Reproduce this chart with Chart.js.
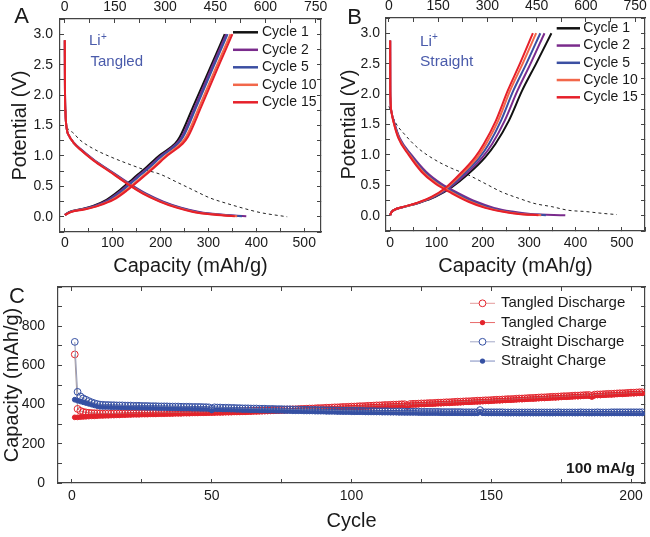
<!DOCTYPE html>
<html><head><meta charset="utf-8">
<script src="https://cdn.jsdelivr.net/npm/chart.js@4.4.1/dist/chart.umd.min.js"></script>
<style>
html,body{margin:0;padding:0;background:#fff;width:650px;height:537px;overflow:hidden;position:relative}
canvas{position:absolute;display:block}
#ca{left:0;top:0}
#cb{left:325px;top:0}
#cc{left:0;top:280px}
</style></head><body>
<canvas id="ca" width="345" height="280"></canvas>
<canvas id="cb" width="325" height="280"></canvas>
<canvas id="cc" width="650" height="257"></canvas>
<script>
// ---------------- DATA ----------------
// Panel A (Tangled) - discharge: capacity (mAh/g, bottom axis) at potentials
const A_disV   = [2.9, 2.2, 1.7, 1.45, 1.33, 1.22, 1.10, 0.93, 0.74, 0.55, 0.38, 0.25, 0.15, 0.08, 0.04, 0.01];
const A_dis_c2  = [0, 0.3, 1.5, 4, 9, 19, 35, 62, 98, 134, 170, 206, 243, 281, 320, 379];
const A_dis_c5  = [0, 0.3, 1.5, 4, 9, 18, 34, 61, 97, 132, 168, 203, 240, 276, 313, 370];
const A_dis_c10 = [0, 0.3, 1.5, 4, 9, 18, 33, 60, 95, 130, 165, 200, 236, 271, 307, 360];
const A_dis_c15 = [0, 0.3, 1.5, 4, 9, 18, 33, 59, 94, 129, 163, 198, 233, 268, 303, 355];
// Panel A - charge
const A_chgV   = [0.03, 0.08, 0.12, 0.18, 0.28, 0.44, 0.63, 0.82, 1.01, 1.20, 1.31, 1.81, 2.44, 3.0];
const A_chg_c1  = [0, 10, 31, 59, 87, 115, 143, 171, 198, 230, 240, 268, 303, 334];
const A_chg_c2  = [0, 11, 33, 62, 91, 119, 147, 175, 202, 233, 244, 272, 306, 337];
const A_chg_c5  = [0, 12, 35, 64, 94, 122, 150, 178, 205, 236, 247, 275, 309, 340];
const A_chg_c10 = [0, 13, 38, 68, 99, 128, 157, 185, 212, 242, 253, 281, 315, 346];
const A_chg_c15 = [0, 14, 40, 70, 102, 131, 160, 188, 215, 246, 257, 285, 319, 350];
// Panel A - first discharge (dashed, top axis)
const A_first_cap = [0, 1, 3, 6, 20, 46, 85, 135, 185, 235, 285, 335, 384, 434, 484, 534, 584, 665];
const A_first_V   = [2.55, 2.1, 1.75, 1.5, 1.4, 1.26, 1.12, 0.99, 0.88, 0.78, 0.70, 0.57, 0.44, 0.31, 0.22, 0.14, 0.07, 0.0];

// Panel B (Straight) - discharge
const B_disV   = [2.88, 2.2, 1.93, 1.70, 1.55, 1.27, 1.0, 0.72, 0.53, 0.37, 0.23, 0.13, 0.07, 0.03, 0.01];
const B_dis_c2  = [0, 0.2, 0.6, 3, 8, 21, 46, 78, 110, 148, 186, 224, 263, 303, 378];
const B_dis_c5  = [0, 0.2, 0.6, 3, 8, 20, 44, 74, 105, 142, 179, 215, 252, 290, 336];
const B_dis_c10 = [0, 0.2, 0.6, 3, 7, 19, 42, 71, 101, 137, 173, 209, 245, 282, 326];
const B_dis_c15 = [0, 0.2, 0.6, 3, 7, 18, 40, 68, 97, 133, 169, 205, 241, 277, 320];
// Panel B - charge
const B_chgV   = [0.01, 0.05, 0.09, 0.15, 0.21, 0.31, 0.47, 0.69, 0.96, 1.18, 1.56, 2.06, 2.50, 3.0];
const B_chg_c1  = [0, 2, 7, 32, 61, 97, 133, 169, 205, 227, 256, 285, 315, 348];
const B_chg_c2  = [0, 2, 7, 32, 60, 95, 130, 164, 199, 220, 247, 275, 303, 333];
const B_chg_c5  = [0, 2, 7, 31, 59, 93, 127, 159, 193, 213, 239, 266, 294, 324];
const B_chg_c10 = [0, 2, 7, 31, 58, 91, 124, 155, 188, 207, 233, 259, 286, 315];
const B_chg_c15 = [0, 2, 7, 30, 57, 89, 121, 151, 183, 202, 228, 254, 280, 308];
// Panel B - first discharge (dashed, top axis)
const B_first_cap = [0, 18, 49, 89, 140, 191, 242, 293, 344, 394, 445, 496, 547, 598, 650, 694];
const B_first_V   = [1.80, 1.55, 1.33, 1.11, 0.92, 0.78, 0.67, 0.53, 0.39, 0.29, 0.20, 0.15, 0.09, 0.07, 0.04, 0.02];

// Panel C - cycling (mAh/g) for cycles 1..N
const tangledDischarge = [
656,378,368,363,360,358,357,356,356,355, 354,355,355,354,355,355,355,355,356,356,
356,356,356,357,357,357,357,358,358,358, 358,359,359,359,359,360,360,360,360,361,
361,361,361,362,362,362,362,363,363,363, 364,364,364,365,365,365,366,366,366,367,
367,367,368,368,369,369,369,370,370,371, 371,372,372,373,373,374,375,375,376,376,
377,378,378,379,380,380,381,382,382,383, 384,384,385,386,386,387,388,388,389,390,
390,391,392,392,393,394,394,395,396,396, 397,398,398,399,400,400,401,402,402,394,
403,404,404,405,406,406,407,408,408,409, 410,410,411,412,412,413,414,415,415,416,
417,417,418,419,420,420,421,422,422,423, 424,425,425,426,427,428,428,429,430,431,
431,432,433,434,434,435,436,437,437,438, 439,440,440,441,442,443,443,444,445,446,
446,447,448,449,449,445,451,452,452,453, 454,455,455,456,457,458,458,459,460,461,
461,462,463,463];
const tangledCharge = [
335,335,336,337,338,339,340,340,341,342, 342,343,343,344,344,345,345,346,346,347,
347,348,348,348,349,349,349,350,350,350, 351,351,351,352,352,352,353,353,353,354,
354,354,355,355,355,356,356,356,357,357, 357,358,358,358,359,359,359,360,360,360,
361,361,362,362,363,363,364,364,365,365, 366,366,367,367,368,368,369,370,370,371,
372,372,373,374,374,375,376,376,377,378, 378,379,380,380,381,382,382,383,384,384,
385,386,386,387,388,388,389,390,390,391, 392,392,393,394,394,395,396,396,397,388,
398,399,399,400,401,401,402,403,403,404, 405,405,406,407,407,408,409,409,410,411,
412,412,413,414,414,415,416,417,417,418, 419,420,420,421,422,423,423,424,425,426,
426,427,428,429,429,430,431,432,432,433, 434,435,435,436,437,438,438,439,440,441,
441,442,443,444,444,439,446,447,447,448, 449,450,450,451,452,453,453,454,455,456,
456,457,458,458];
const straightDischarge = [
720,465,442,432,425,418,412,407,403,400, 399,398,398,397,397,396,396,396,395,395,
395,394,394,394,393,393,393,392,392,392, 391,391,391,391,390,390,390,390,389,389,
389,389,388,388,388,388,387,387,386,379, 386,385,385,384,384,384,383,383,382,382,
381,381,381,380,380,380,379,379,379,378, 378,378,377,377,377,376,376,376,375,375,
375,374,374,374,373,373,373,372,372,372, 371,371,371,370,370,370,369,369,369,369,
368,368,368,368,367,367,367,367,366,366, 366,366,366,365,365,365,365,365,364,364,
364,364,364,364,363,363,363,363,363,363, 363,362,362,362,362,362,362,362,362,361,
361,361,361,361,361,372,361,361,361,361, 361,361,361,361,360,360,360,360,360,360,
360,360,360,360,360,360,360,360,360,360, 360,360,360,361,360,360,360,360,360,360,
360,361,360,360,360,360,360,361,360,360, 360,360,361,361,361,361,361,361,361,361,
361,361,361,361];
const straightCharge = [
425,420,416,412,408,404,400,396,392,389, 388,388,388,387,387,387,386,386,386,385,
385,385,385,384,384,384,383,383,383,383, 382,382,382,382,381,381,381,381,380,380,
380,380,379,379,379,378,378,378,377,370, 377,376,376,375,375,375,374,374,373,373,
372,372,372,371,371,371,370,370,370,369, 369,369,368,368,368,367,367,367,366,366,
366,366,365,365,365,365,364,364,364,364, 363,363,363,363,362,362,362,362,362,361,
361,361,361,361,360,360,360,360,360,360, 359,359,359,359,359,359,358,358,358,358,
358,358,358,357,357,357,357,357,357,357, 357,356,356,356,356,356,356,356,356,356,
356,356,356,356,356,362,356,356,355,355, 355,355,355,355,355,355,355,355,355,355,
355,355,355,355,355,355,355,355,355,355, 355,355,355,355,355,355,355,355,355,355,
355,355,355,355,355,355,355,355,355,355, 355,355,355,355,355,355,355,355,355,355,
355,355,355,355];
const cycles = tangledDischarge.map((_, i) => i + 1);

// ---------------- STYLE ----------------
const FONT = "'Liberation Sans', Arial, Helvetica, sans-serif";
Chart.defaults.font.family = FONT;
Chart.defaults.color = '#1a1a1a';
const AXC = '#444';
const COL = {c1: '#111111', c2: '#7a2b8c', c5: '#3b4fa2', c10: '#f2674a', c15: '#e6202a'};
const RED = '#e3232b', BLUE = '#3550a3', LIBLUE = '#4a5bab';

function lin(o) {
  const horiz = o.position === 'top' || o.position === 'bottom';
  return {
    type: 'linear', position: o.position, min: o.min, max: o.max,
    grid: {display: true, drawOnChartArea: false, drawTicks: true, tickLength: -4, tickColor: AXC, tickWidth: 1, color: AXC},
    border: {display: true, color: AXC, width: 1.2},
    ticks: {
      display: o.labels !== false, stepSize: o.step, autoSkip: false, maxRotation: 0, minRotation: 0,
      includeBounds: false, padding: o.pad || 0, color: '#1a1a1a', font: {size: o.fs || 14, family: FONT},
      callback: function (v) {
        if (o.labels === false) return '';
        const r = v / o.every;
        if (Math.abs(r - Math.round(r)) > 1e-6) return '';
        if (o.hide && o.hide.indexOf(Math.round(v)) >= 0) return '';
        return o.dec ? v.toFixed(o.dec) : String(Math.round(v));
      }
    },
    title: o.title ? {display: true, text: o.title, color: '#1a1a1a', font: {size: o.tfs || 20, family: FONT}, padding: o.tpad} : {display: false},
    afterFit: function (s) {
      if (horiz) s.height = o.size; else s.width = o.size;
      s.paddingLeft = 0; s.paddingRight = 0; s.paddingTop = 0; s.paddingBottom = 0;
    }
  };
}

function makeDeco(cfg) {
  return {
    id: 'deco',
    afterDatasetsDraw(chart) {
      const ctx = chart.ctx;
      ctx.save();
      (cfg.texts || []).forEach(t => {
        ctx.font = t.font; ctx.fillStyle = t.color || '#1a1a1a';
        ctx.textAlign = t.align || 'left'; ctx.textBaseline = 'middle';
        ctx.fillText(t.text, t.x, t.y);
      });
      const L = cfg.legend;
      if (L) {
        L.items.forEach((it, i) => {
          const y = L.y0 + i * L.dy;
          ctx.strokeStyle = it.line; ctx.lineWidth = it.lw || 2.5;
          ctx.beginPath(); ctx.moveTo(L.x0, y); ctx.lineTo(L.x1, y); ctx.stroke();
          if (it.marker) {
            ctx.beginPath(); ctx.arc((L.x0 + L.x1) / 2, y, it.r, 0, 2 * Math.PI);
            if (it.filled) { ctx.fillStyle = it.marker; ctx.fill(); }
            else { ctx.fillStyle = '#fff'; ctx.fill(); ctx.lineWidth = 1; ctx.strokeStyle = it.marker; ctx.stroke(); }
          }
          ctx.font = L.font; ctx.fillStyle = '#1a1a1a'; ctx.textAlign = 'left'; ctx.textBaseline = 'middle';
          ctx.fillText(it.label, L.tx, y);
        });
      }
      ctx.restore();
    }
  };
}

const pts = (xs, ys) => xs.map((x, i) => ({x: x, y: ys[i]}));
function curve(label, xs, ys, color, order) {
  return {label: label, data: pts(xs, ys), xAxisID: 'x', yAxisID: 'y', showLine: true, pointRadius: 0,
    borderColor: color, borderWidth: 2, cubicInterpolationMode: 'monotone', order: order};
}
function dashed(xs, ys) {
  return {label: 'first', data: pts(xs, ys), xAxisID: 'x2', yAxisID: 'y', showLine: true, pointRadius: 0,
    borderColor: '#222', borderWidth: 1, borderDash: [3, 3], cubicInterpolationMode: 'monotone', order: 10};
}
const baseOpts = {responsive: false, animation: false, events: [],
  plugins: {legend: {display: false}, tooltip: {enabled: false}}};

// ---------------- PANEL A ----------------
new Chart(document.getElementById('ca'), {
  type: 'scatter',
  data: {datasets: [
    curve('Cycle 15', A_dis_c15, A_disV, COL.c15, 0),
    curve('Cycle 15', A_chg_c15, A_chgV, COL.c15, 0),
    curve('Cycle 10', A_dis_c10, A_disV, COL.c10, 1),
    curve('Cycle 10', A_chg_c10, A_chgV, COL.c10, 1),
    curve('Cycle 5', A_dis_c5, A_disV, COL.c5, 2),
    curve('Cycle 5', A_chg_c5, A_chgV, COL.c5, 2),
    curve('Cycle 2', A_dis_c2, A_disV, COL.c2, 3),
    curve('Cycle 2', A_chg_c2, A_chgV, COL.c2, 3),
    curve('Cycle 1', A_chg_c1, A_chgV, COL.c1, 4),
    dashed(A_first_cap, A_first_V)
  ]},
  options: Object.assign({}, baseOpts, {
    layout: {padding: {left: 0, right: 24, top: 0, bottom: 0}},
    scales: {
      x: lin({position: 'bottom', min: -10, max: 535, step: 50, every: 100, pad: 7, size: 48, title: 'Capacity (mAh/g)', tpad: {top: 0, bottom: 1.3}}),
      x2: lin({position: 'top', min: -14, max: 766, step: 75, every: 150, pad: 7.5, size: 19}),
      y: lin({position: 'left', min: -0.25, max: 3.25, step: 0.25, every: 0.5, dec: 1, pad: 11, size: 60, title: 'Potential (V)', tpad: {top: 8, bottom: 0}}),
      y2: lin({position: 'right', min: -0.25, max: 3.25, step: 0.25, every: 0.5, labels: false, size: 0})
    }
  }),
  plugins: [makeDeco({
    texts: [
      {text: 'A', x: 21.5, y: 17, font: '22px ' + FONT, align: 'center'},
      {text: 'Li', x: 89, y: 41, font: '15px ' + FONT, color: LIBLUE},
      {text: '+', x: 101, y: 37, font: '10px ' + FONT, color: LIBLUE},
      {text: 'Tangled', x: 90.5, y: 61.7, font: '15px ' + FONT, color: LIBLUE}
    ],
    legend: {x0: 233, x1: 258, tx: 262, y0: 32.3, dy: 17.5, font: '14px ' + FONT, items: [
      {label: 'Cycle 1', line: COL.c1}, {label: 'Cycle 2', line: COL.c2}, {label: 'Cycle 5', line: COL.c5},
      {label: 'Cycle 10', line: COL.c10}, {label: 'Cycle 15', line: COL.c15}]}
  })]
});

// ---------------- PANEL B ----------------
new Chart(document.getElementById('cb'), {
  type: 'scatter',
  data: {datasets: [
    curve('Cycle 15', B_dis_c15, B_disV, COL.c15, 0),
    curve('Cycle 15', B_chg_c15, B_chgV, COL.c15, 0),
    curve('Cycle 10', B_dis_c10, B_disV, COL.c10, 1),
    curve('Cycle 10', B_chg_c10, B_chgV, COL.c10, 1),
    curve('Cycle 5', B_dis_c5, B_disV, COL.c5, 2),
    curve('Cycle 5', B_chg_c5, B_chgV, COL.c5, 2),
    curve('Cycle 2', B_dis_c2, B_disV, COL.c2, 3),
    curve('Cycle 2', B_chg_c2, B_chgV, COL.c2, 3),
    curve('Cycle 1', B_chg_c1, B_chgV, COL.c1, 4),
    dashed(B_first_cap, B_first_V)
  ]},
  options: Object.assign({}, baseOpts, {
    layout: {padding: {left: 0, right: 5, top: 0, bottom: 0}},
    scales: {
      x: lin({position: 'bottom', min: -9, max: 550, step: 50, every: 100, pad: 8, size: 49, title: 'Capacity (mAh/g)', tpad: {top: 0, bottom: 1.3}}),
      x2: lin({position: 'top', min: -9, max: 780, step: 75, every: 150, pad: 7.5, size: 18}),
      y: lin({position: 'left', min: -0.25, max: 3.25, step: 0.25, every: 0.5, dec: 1, pad: 10, size: 61, title: 'Potential (V)', tpad: {top: 12.5, bottom: 0}}),
      y2: lin({position: 'right', min: -0.25, max: 3.25, step: 0.25, every: 0.5, labels: false, size: 0})
    }
  }),
  plugins: [makeDeco({
    texts: [
      {text: 'B', x: 29.5, y: 18, font: '22px ' + FONT, align: 'center'},
      {text: 'Li', x: 95, y: 41.7, font: '15.5px ' + FONT, color: LIBLUE},
      {text: '+', x: 107, y: 37.5, font: '10px ' + FONT, color: LIBLUE},
      {text: 'Straight', x: 95, y: 61.7, font: '15.5px ' + FONT, color: LIBLUE}
    ],
    legend: {x0: 231.7, x1: 255, tx: 258.3, y0: 28.3, dy: 17.25, font: '14px ' + FONT, items: [
      {label: 'Cycle 1', line: COL.c1}, {label: 'Cycle 2', line: COL.c2}, {label: 'Cycle 5', line: COL.c5},
      {label: 'Cycle 10', line: COL.c10}, {label: 'Cycle 15', line: COL.c15}]}
  })]
});

// ---------------- PANEL C ----------------
const mk = arr => arr.map((v, i) => ({x: cycles[i], y: v}));
function series(label, arr, lineCol, markCol, open, order) {
  return {label: label, data: mk(arr), xAxisID: 'x', yAxisID: 'y', showLine: true,
    borderColor: lineCol, borderWidth: 1, pointStyle: 'circle',
    pointRadius: open ? 3.4 : 2.4, pointBorderWidth: 1,
    pointBorderColor: markCol, pointBackgroundColor: open ? 'rgba(255,255,255,0)' : markCol, order: order};
}
new Chart(document.getElementById('cc'), {
  type: 'scatter',
  data: {datasets: [
    series('Straight Discharge', straightDischarge, '#9499b5', BLUE, true, 0),
    series('Straight Charge', straightCharge, BLUE, BLUE, false, 1),
    series('Tangled Discharge', tangledDischarge, '#a89a9a', RED, true, 2),
    series('Tangled Charge', tangledCharge, RED, RED, false, 3)
  ]},
  options: Object.assign({}, baseOpts, {
    layout: {padding: {left: 0, right: 1, top: 7, bottom: 0}},
    scales: {
      x: lin({position: 'bottom', min: -5, max: 205, step: 25, every: 50, pad: 8.6, fs: 14, size: 54, title: 'Cycle', tpad: {top: 0, bottom: 3.6}}),
      x2: lin({position: 'top', min: -5, max: 205, step: 25, every: 50, labels: false, size: 0}),
      y: lin({position: 'left', min: 0, max: 1000, step: 100, every: 200, hide: [1000], pad: 17, fs: 14, size: 58, title: 'Capacity (mAh/g)', tpad: {top: 0, bottom: 0}}),
      y2: lin({position: 'right', min: 0, max: 1000, step: 100, every: 200, labels: false, size: 0})
    }
  }),
  plugins: [makeDeco({
    texts: [
      {text: 'C', x: 17, y: 17, font: '22px ' + FONT, align: 'center'},
      {text: '100 mA/g', x: 635, y: 189, font: 'bold 15.5px ' + FONT, align: 'right'}
    ],
    legend: {x0: 470, x1: 495, tx: 501, y0: 23.3, dy: 19.25, font: '15px ' + FONT, items: [
      {label: 'Tangled Discharge', line: '#e49a9a', lw: 1, marker: RED, r: 3.4, filled: false},
      {label: 'Tangled Charge', line: '#e86a6a', lw: 1, marker: RED, r: 2.6, filled: true},
      {label: 'Straight Discharge', line: '#a3a8c8', lw: 1, marker: BLUE, r: 3.4, filled: false},
      {label: 'Straight Charge', line: '#7f8cc0', lw: 1, marker: BLUE, r: 2.6, filled: true}]}
  })]
});
</script>
</body></html>
